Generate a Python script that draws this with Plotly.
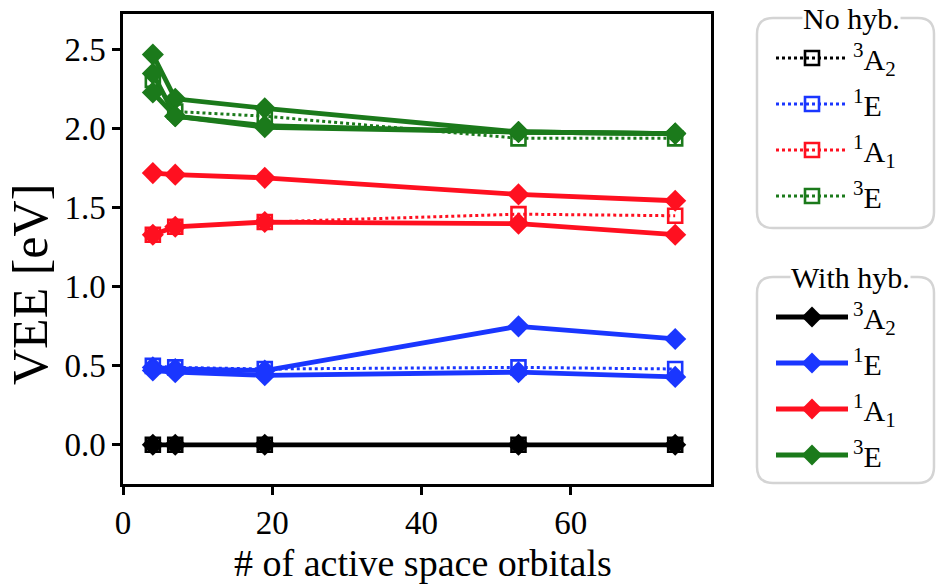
import plotly.graph_objects as go

# ---------------- data ----------------
orbitals = [4, 7, 19, 53, 74]

# No hybridization (dotted, open squares)
nohyb_3A2 = [0.00, 0.00, 0.00, 0.00, 0.00]
nohyb_1E = [0.50, 0.49, 0.48, 0.49, 0.48]
nohyb_1A1 = [1.33, 1.38, 1.41, 1.46, 1.45]
nohyb_3E = [2.31, 2.11, 2.08, 1.94, 1.94]

# With hybridization (solid, diamonds) - several roots per state
hyb_3A2 = [[0.00, 0.00, 0.00, 0.00, 0.00]]
hyb_1E = [[0.49, 0.48, 0.47, 0.75, 0.67],
          [0.47, 0.46, 0.44, 0.46, 0.43]]
hyb_1A1 = [[1.72, 1.71, 1.69, 1.585, 1.545],
           [1.33, 1.38, 1.41, 1.40, 1.33]]
hyb_3E = [[2.47, 2.19, 2.13, 1.98, 1.97],
          [2.35, 2.08, 2.02, 1.98, 1.97],
          [2.23, 2.08, 2.01, 1.98, 1.97]]

state_labels = ["<sup>3</sup>A<sub>2</sub>", "<sup>1</sup>E",
                "<sup>1</sup>A<sub>1</sub>", "<sup>3</sup>E"]
colors = ["#000000", "#1a36ff", "#ff1020", "#1b7a1b"]

x_ticks = [0, 20, 40, 60]
y_ticks = [0.0, 0.5, 1.0, 1.5, 2.0, 2.5]

FONT = "Liberation Serif"
W, H = 936, 584
ML, MR, MT, MB = 123, 225, 14, 100
PW, PH = W - ML - MR, H - MT - MB


def px(xp):
    return (xp - ML) / PW


def py(yp):
    return (H - MB - yp) / PH


fig = go.Figure()

nohyb = [nohyb_3A2, nohyb_1E, nohyb_1A1, nohyb_3E]
for lab, col, vals in zip(state_labels, colors, nohyb):
    fig.add_trace(go.Scatter(
        x=orbitals, y=vals, mode="lines+markers", name=lab,
        legend="legend", legendgroup="n" + lab,
        line=dict(color=col, width=3, dash="dot"),
        marker=dict(symbol="square-open", size=14, color=col,
                    line=dict(width=2.6, color=col)),
    ))

hyb = [hyb_3A2, hyb_1E, hyb_1A1, hyb_3E]
for lab, col, series in zip(state_labels, colors, hyb):
    for i, vals in enumerate(series):
        fig.add_trace(go.Scatter(
            x=orbitals, y=vals, mode="lines+markers", name=lab,
            legend="legend2", legendgroup="h" + lab, showlegend=(i == 0),
            line=dict(color=col, width=4.8),
            marker=dict(symbol="diamond", size=17, color=col,
                        line=dict(width=0)),
        ))


def rrect(x0, y0, x1, y1, r):
    pts = [
        ("M", x0 + r, y0), ("L", x1 - r, y0), ("Q", x1, y0, x1, y0 + r),
        ("L", x1, y1 - r), ("Q", x1, y1, x1 - r, y1), ("L", x0 + r, y1),
        ("Q", x0, y1, x0, y1 - r), ("L", x0, y0 + r), ("Q", x0, y0, x0 + r, y0),
    ]
    s = ""
    for p in pts:
        cmd = p[0]
        coords = p[1:]
        parts = []
        for k in range(0, len(coords), 2):
            parts.append(f"{px(coords[k]):.5f},{py(coords[k + 1]):.5f}")
        s += cmd + " " + " ".join(parts) + " "
    return s + "Z"


shapes = [
    dict(type="path", xref="paper", yref="paper", path=rrect(757, 18, 934, 228, 16),
         line=dict(color="#d4d4d4", width=2.5), fillcolor="white", layer="below"),
    dict(type="path", xref="paper", yref="paper", path=rrect(757, 277, 934, 483, 16),
         line=dict(color="#d4d4d4", width=2.5), fillcolor="white", layer="below"),
]

annotations = [
    dict(text="No hyb.", x=px(851), y=py(19), xref="paper", yref="paper",
         xanchor="center", yanchor="middle", showarrow=False, bgcolor="white",
         font=dict(family=FONT, size=30, color="black"), borderpad=0),
    dict(text="With hyb.", x=px(850), y=py(277), xref="paper", yref="paper",
         xanchor="center", yanchor="middle", showarrow=False, bgcolor="white",
         font=dict(family=FONT, size=30, color="black"), borderpad=0),
    dict(text="VEE [eV]", x=px(30), y=py(285), xref="paper", yref="paper",
         xanchor="center", yanchor="middle", showarrow=False, textangle=-90,
         font=dict(family=FONT, size=50, color="black")),
    dict(text="# of active space orbitals", x=px(423), y=py(563),
         xref="paper", yref="paper", xanchor="center", yanchor="middle",
         showarrow=False, font=dict(family=FONT, size=38, color="black")),
]

axis_common = dict(
    showline=True, linecolor="black", linewidth=2.5, mirror=True,
    ticks="outside", ticklen=8, tickwidth=2.5, tickcolor="black",
    showgrid=False, zeroline=False, automargin=False,
    tickfont=dict(family=FONT, size=33, color="black"),
)

fig.update_layout(
    width=W, height=H, autosize=False,
    margin=dict(l=ML, r=MR, t=MT, b=MB, autoexpand=False),
    paper_bgcolor="white", plot_bgcolor="white",
    font=dict(family=FONT, color="black"),
    xaxis=dict(range=[0, 78.8], tickvals=x_ticks, **axis_common),
    yaxis=dict(range=[-0.248, 2.727], tickvals=y_ticks, tickformat=".1f",
               **axis_common),
    legend=dict(x=px(771), y=py(32), xanchor="left", yanchor="top",
                xref="paper", yref="paper", bgcolor="rgba(0,0,0,0)",
                borderwidth=0, font=dict(family=FONT, size=30),
                itemwidth=72, tracegroupgap=4),
    legend2=dict(x=px(771), y=py(291), xanchor="left", yanchor="top",
                 xref="paper", yref="paper", bgcolor="rgba(0,0,0,0)",
                 borderwidth=0, font=dict(family=FONT, size=30),
                 itemwidth=72, tracegroupgap=4),
    shapes=shapes,
    annotations=annotations,
    showlegend=True,
)

fig.write_html("out.html",
               config={"displayModeBar": False},
               post_script="document.body.style.margin='0';"
                           "document.body.style.overflow='hidden';")
